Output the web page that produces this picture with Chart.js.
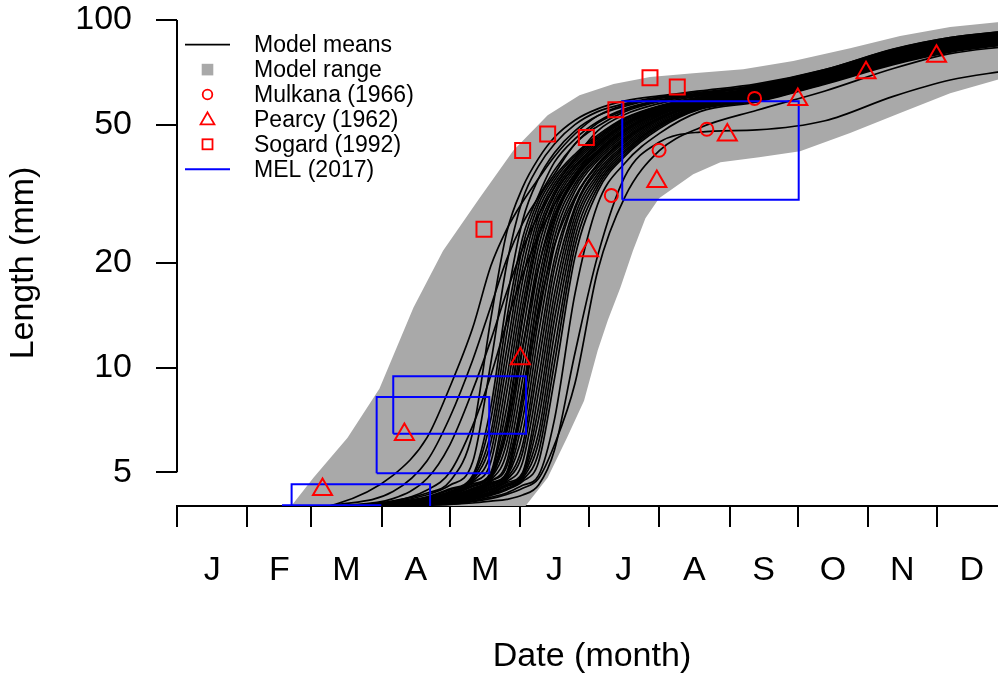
<!DOCTYPE html>
<html>
<head>
<meta charset="utf-8">
<title>Length by date</title>
<script src="https://cdn.jsdelivr.net/npm/chart.js@4.4.1/dist/chart.umd.min.js"></script>
<style>
  html, body { margin: 0; padding: 0; background: #fff; overflow: hidden; }
  #wrap { width: 1007px; height: 674px; }
</style>
</head>
<body>
<div id="wrap"><canvas id="chart" width="1007" height="674"></canvas></div>
<script>
const FONT = "'Liberation Sans', Arial, Helvetica, sans-serif";
const RED = '#FF0000';
const BLUE = '#0000FF';
const GREY = '#A9A9A9';

// axis layout
const MONTH_START = [0, 31, 59, 90, 120, 151, 181, 212, 243, 273, 304, 334];
const MONTH_MID = [15.5, 45, 74.5, 105, 135.5, 166, 196.5, 227.5, 258, 288.5, 319, 349.5];
const MONTH_LABELS = ['J', 'F', 'M', 'A', 'M', 'J', 'J', 'A', 'S', 'O', 'N', 'D'];
const LENGTH_TICKS = [5, 10, 20, 50, 100];
const LEGEND_LABELS = ['Model means', 'Model range', 'Mulkana (1966)', 'Pearcy (1962)', 'Sogard (1992)', 'MEL (2017)'];

// model runs: mean length (mm) on a shared set of days
const MODEL_DAYS = [30, 70, 95, 110, 120, 130, 138, 145, 152, 159, 166, 175, 185, 197, 212, 230, 255, 285, 315, 340, 365];
const MODEL_MEANS = [
  [3.8, 4.05, 4.9, 6.3, 8.8, 13.0, 19.6, 25.0, 30.0, 35.0, 40.5, 47.0, 53.0, 57.0, 59.5, 61.5, 65.0, 72.0, 82.5, 89.0, 93.0],
  [3.75, 4.03, 4.4, 5.4, 7.2, 10.5, 15.0, 20.5, 26.0, 31.0, 37.0, 44.0, 50.5, 55.0, 58.5, 61.0, 64.5, 71.3, 81.5, 88.2, 92.4],
  [3.72, 4.0, 4.2, 4.8, 6.0, 8.6, 12.0, 16.5, 22.0, 27.5, 33.0, 40.0, 48.0, 53.5, 57.5, 60.5, 63.8, 70.6, 80.5, 87.3, 91.5],
  [3.7, 3.98, 4.12, 4.45, 5.0, 6.8, 9.5, 13.5, 18.5, 24.0, 29.5, 36.0, 43.5, 50.0, 55.0, 59.0, 62.8, 70.0, 79.6, 86.5, 90.6],
  [3.7, 3.96, 4.14, 4.36, 4.71, 6.5, 13.8, 24.5, 33.0, 40.0, 46.0, 51.5, 55.5, 58.5, 60.5, 62.5, 65.5, 72.0, 82.3, 89.0, 92.8],
  [3.7, 3.96, 4.11, 4.31, 4.59, 5.35, 10.3, 19.8, 30.5, 38.0, 44.0, 50.0, 54.5, 57.5, 60.0, 62.0, 64.8, 71.3, 81.4, 88.1, 91.9],
  [3.7, 3.96, 4.09, 4.25, 4.48, 4.9, 7.7, 15.5, 26.5, 35.0, 41.5, 48.0, 53.0, 56.5, 59.5, 61.5, 64.2, 71.3, 81.7, 88.4, 92.2],
  [3.7, 3.96, 4.08, 4.24, 4.45, 4.85, 7.1, 13.8, 23.65, 31.3, 39.0, 45.5, 51.0, 55.5, 58.8, 61.2, 62.7, 69.9, 80.0, 86.6, 90.5],
  [3.7, 3.96, 4.08, 4.22, 4.41, 4.8, 6.5, 12.55, 22.3, 30.4, 36.05, 44.0, 49.5, 54.5, 58.2, 60.8, 63.1, 70.3, 80.4, 87.1, 90.9],
  [3.7, 3.96, 4.07, 4.2, 4.38, 4.75, 6.1, 11.3, 20.8, 29.5, 35.35, 41.1, 46.6, 52.3, 56.65, 60.05, 61.7, 68.9, 78.7, 85.3, 89.2],
  [3.7, 3.96, 4.06, 4.19, 4.36, 4.71, 5.7, 10.3, 19.3, 28.4, 34.6, 40.6, 46.05, 51.95, 56.4, 59.9, 63.5, 70.6, 80.8, 87.5, 91.3],
  [3.7, 3.96, 4.06, 4.18, 4.34, 4.67, 5.35, 9.3, 17.8, 27.3, 33.8, 40.0, 45.55, 51.6, 56.15, 59.75, 63.8, 71.0, 81.2, 88.0, 91.7],
  [3.7, 3.96, 4.05, 4.17, 4.33, 4.63, 5.0, 8.5, 16.3, 26.15, 33.0, 39.4, 45.0, 51.1, 55.9, 59.6, 62.7, 69.9, 80.0, 86.6, 90.5],
  [3.7, 3.96, 4.05, 4.16, 4.31, 4.59, 4.95, 7.7, 15.05, 25.0, 32.15, 38.8, 44.5, 50.65, 55.6, 59.45, 62.0, 69.2, 79.1, 85.7, 89.6],
  [3.7, 3.96, 4.04, 4.15, 4.29, 4.55, 4.9, 7.1, 13.8, 23.65, 31.3, 38.15, 43.9, 50.15, 55.35, 59.3, 62.4, 69.6, 79.5, 86.2, 90.0],
  [3.7, 3.96, 4.04, 4.15, 4.3, 4.57, 4.95, 6.6, 11.5, 19.5, 27.5, 35.5, 42.0, 48.5, 54.0, 58.4, 60.9, 68.2, 77.8, 84.4, 88.3],
  [3.7, 3.96, 4.04, 4.14, 4.27, 4.5, 4.85, 6.5, 12.55, 22.3, 30.4, 37.45, 43.35, 49.7, 55.1, 59.1, 61.7, 68.9, 78.7, 85.3, 89.2],
  [3.7, 3.96, 4.03, 4.13, 4.25, 4.48, 4.8, 6.1, 11.3, 20.8, 29.5, 36.8, 42.8, 49.2, 54.8, 58.95, 61.3, 68.5, 78.3, 84.8, 88.8],
  [3.7, 3.96, 4.03, 4.13, 4.25, 4.48, 4.8, 6.8, 14.0, 24.0, 31.5, 38.0, 44.0, 50.5, 55.8, 59.6, 62.7, 69.9, 80.0, 86.6, 90.5],
  [3.7, 3.96, 4.03, 4.12, 4.24, 4.45, 4.75, 5.7, 10.3, 19.3, 28.4, 36.05, 42.2, 48.65, 54.5, 58.75, 62.0, 69.2, 79.1, 85.7, 89.6],
  [3.7, 3.96, 4.03, 4.11, 4.22, 4.41, 4.71, 5.35, 9.3, 17.8, 27.3, 35.35, 41.65, 48.15, 54.25, 58.55, 60.9, 68.2, 77.8, 84.4, 88.3],
  [3.7, 3.96, 4.03, 4.11, 4.22, 4.41, 4.71, 5.2, 8.2, 14.5, 22.5, 31.0, 38.5, 45.5, 52.0, 57.0, 59.9, 67.1, 76.6, 83.0, 87.1],
  [3.7, 3.96, 4.02, 4.1, 4.2, 4.38, 4.67, 5.0, 8.5, 16.3, 26.15, 34.6, 41.1, 47.6, 54.0, 58.35, 60.6, 67.8, 77.4, 83.9, 87.9],
  [3.7, 3.96, 4.02, 4.09, 4.19, 4.36, 4.63, 4.95, 7.7, 15.05, 25.0, 33.8, 40.6, 47.1, 53.65, 58.15, 61.3, 68.5, 78.3, 84.8, 88.8],
  [3.7, 3.96, 4.02, 4.09, 4.19, 4.36, 4.63, 4.95, 8.2, 16.5, 26.5, 35.0, 41.5, 48.0, 54.2, 58.6, 62.0, 69.2, 79.1, 85.7, 89.6],
  [3.7, 3.96, 4.02, 4.09, 4.18, 4.34, 4.59, 4.9, 7.1, 13.8, 23.65, 33.0, 40.0, 46.6, 53.3, 57.95, 60.2, 67.5, 77.0, 83.5, 87.5],
  [3.7, 3.96, 4.02, 4.08, 4.17, 4.33, 4.55, 4.85, 6.5, 12.55, 22.3, 32.15, 39.4, 46.05, 52.95, 57.8, 59.9, 67.1, 76.6, 83.0, 87.1],
  [3.7, 3.96, 4.01, 4.07, 4.16, 4.31, 4.52, 4.8, 6.0, 11.3, 20.5, 30.5, 38.5, 45.5, 52.5, 57.6, 61.3, 68.5, 78.3, 84.8, 88.8],
  [3.7, 3.96, 4.01, 4.07, 4.15, 4.29, 4.48, 4.75, 5.7, 10.3, 19.3, 30.4, 38.15, 45.0, 52.3, 57.4, 60.6, 67.8, 77.4, 83.9, 87.9],
  [3.7, 3.96, 4.01, 4.06, 4.14, 4.27, 4.45, 4.7, 5.35, 9.3, 17.8, 29.0, 37.5, 44.5, 52.0, 57.2, 59.9, 67.1, 76.6, 83.0, 87.1],
  [3.7, 3.96, 4.01, 4.06, 4.13, 4.25, 4.41, 4.67, 5.0, 8.5, 16.3, 28.4, 36.8, 43.9, 51.6, 56.9, 59.5, 66.8, 76.1, 82.6, 86.6],
  [3.7, 3.96, 4.0, 4.05, 4.12, 4.23, 4.38, 4.62, 4.95, 7.7, 15.05, 27.3, 36.05, 43.35, 51.1, 56.65, 60.9, 68.2, 77.8, 84.4, 88.3],
  [3.7, 3.96, 4.0, 4.05, 4.11, 4.22, 4.36, 4.59, 4.9, 7.1, 13.8, 26.15, 35.35, 42.8, 50.65, 56.4, 59.1, 66.4, 75.7, 82.1, 86.2],
  [3.7, 3.96, 4.0, 4.04, 4.1, 4.2, 4.35, 4.55, 4.85, 6.5, 12.55, 25.0, 34.6, 42.2, 50.15, 56.15, 60.2, 67.5, 77.0, 83.5, 87.5],
  [3.7, 3.96, 4.0, 4.04, 4.09, 4.19, 4.33, 4.5, 4.8, 6.1, 11.3, 23.65, 33.8, 41.65, 49.7, 55.9, 58.8, 66.1, 75.3, 81.7, 85.8],
  [3.7, 3.96, 4.0, 4.04, 4.09, 4.18, 4.31, 4.48, 4.75, 5.7, 10.3, 22.3, 33.0, 41.1, 49.2, 55.6, 59.1, 66.4, 75.7, 82.1, 86.2],
  [3.7, 3.96, 4.0, 4.04, 4.08, 4.17, 4.29, 4.45, 4.71, 5.35, 9.3, 20.8, 32.15, 40.6, 48.65, 55.35, 58.4, 65.7, 74.9, 81.2, 85.4],
  [3.7, 3.96, 4.0, 4.03, 4.06, 4.14, 4.24, 4.36, 4.59, 4.9, 7.1, 16.3, 29.5, 38.8, 47.1, 54.5, 58.1, 65.4, 74.4, 80.8, 84.9],
  [3.7, 3.95, 4.0, 4.03, 4.05, 4.12, 4.2, 4.32, 4.5, 4.8, 6.0, 9.0, 19.0, 31.0, 42.0, 49.0, 55.0, 62.5, 72.5, 80.0, 84.0],
  [3.7, 3.95, 4.0, 4.02, 4.04, 4.08, 4.13, 4.18, 4.3, 4.6, 5.8, 11.0, 21.0, 35.5, 44.5, 47.6, 48.3, 51.3, 60.3, 67.2, 71.5]
];

// envelope of all runs
const RANGE_HIGH_DAYS = [40, 50, 60, 75, 89, 104, 117, 133, 148, 163, 177, 192, 208, 227, 249, 271, 296, 318, 340, 365];
const RANGE_HIGH = [3.3, 3.98, 4.82, 6.29, 8.7, 14.9, 21.7, 30.7, 42.2, 53.2, 60.8, 65.4, 68.5, 70.3, 72.2, 76.2, 83.0, 89.9, 95.5, 99.2];
const RANGE_LOW_DAYS = [40, 140, 153, 163, 171.5, 179, 185, 189.5, 195, 200.5, 206, 212, 227, 239, 256, 274, 296, 318, 340, 365];
const RANGE_LOW = [2.0, 3.1, 3.98, 4.82, 6.29, 8.03, 11.2, 13.7, 17.0, 21.7, 26.9, 30.7, 36.0, 39.0, 40.3, 41.9, 47.3, 54.0, 61.6, 68.5];

// field observations
const MULKANA_DAY = [191, 212, 233, 254];
const MULKANA_LEN = [31.3, 42.2, 48.5, 59.5];
const PEARCY_DAY = [64, 100, 151, 181, 211, 242, 273, 303, 334];
const PEARCY_LEN = [4.46, 6.42, 10.6, 21.7, 34.3, 46.7, 59.1, 70.5, 78.6];
const SOGARD_DAY = [135, 152, 163, 180, 193, 208, 220];
const SOGARD_LEN = [25.0, 42.1, 47.0, 45.9, 55.2, 68.2, 64.2];

// MEL (2017) sampling boxes: date span and length span
const MEL_START = [46.6, 50.4, 87.8, 95.1, 195.8];
const MEL_END = [89.4, 111.3, 137.3, 153.5, 273.4];
const MEL_MIN = [3.5, 3.6, 4.97, 6.46, 30.4];
const MEL_MAX = [4.02, 4.62, 8.23, 9.44, 58.4];

const pts = (xs, ys) => xs.map((x, i) => ({ x: x, y: ys[i] }));

const datasets = [];

// grey envelope: lower edge, then upper edge filled down to it
datasets.push({
  data: pts(RANGE_LOW_DAYS, RANGE_LOW),
  borderWidth: 0, borderColor: 'transparent', pointRadius: 0, fill: false, tension: 0, order: 9
});
datasets.push({
  data: pts(RANGE_HIGH_DAYS, RANGE_HIGH),
  borderWidth: 0, borderColor: 'transparent', pointRadius: 0, tension: 0,
  fill: '-1', backgroundColor: GREY, order: 9
});

MODEL_MEANS.forEach(run => {
  datasets.push({
    data: pts(MODEL_DAYS, run),
    borderColor: '#000', borderWidth: 1.7, pointRadius: 0,
    cubicInterpolationMode: 'monotone', fill: false, order: 5
  });
});

MEL_START.forEach((start, i) => {
  const end = MEL_END[i], lo = MEL_MIN[i], hi = MEL_MAX[i];
  datasets.push({
    data: [{ x: start, y: lo }, { x: end, y: lo }, { x: end, y: hi }, { x: start, y: hi }, { x: start, y: lo }],
    borderColor: BLUE, borderWidth: 2, pointRadius: 0, tension: 0, fill: false, order: 3
  });
});

function observations(days, lens, style, radius) {
  return {
    data: pts(days, lens),
    showLine: false, pointStyle: style, pointRadius: radius,
    pointBorderColor: RED, pointBackgroundColor: 'rgba(0,0,0,0)', pointBorderWidth: 2,
    order: 1
  };
}
datasets.push(observations(MULKANA_DAY, MULKANA_LEN, 'circle', 6.5));
datasets.push(observations(PEARCY_DAY, PEARCY_LEN, 'triangle', 11));
datasets.push(observations(SOGARD_DAY, SOGARD_LEN, 'rect', 10.6));

// axis line over the labelled range only, plus the key in the corner
const legendBox = {
  id: 'legendBox',
  afterDraw(chart) {
    const { ctx, chartArea } = chart;
    const y = chart.scales.y;
    ctx.save();
    ctx.strokeStyle = '#000';
    ctx.lineWidth = 2;
    ctx.beginPath();
    ctx.moveTo(chartArea.left, y.getPixelForValue(LENGTH_TICKS[0]));
    ctx.lineTo(chartArea.left, y.getPixelForValue(LENGTH_TICKS[LENGTH_TICKS.length - 1]));
    ctx.stroke();

    const x0 = chartArea.left + 8, x1 = chartArea.left + 53, xm = (x0 + x1) / 2;
    const row = i => chartArea.top + 24.7 + 24.9 * i;

    ctx.font = '23px ' + FONT;
    ctx.textBaseline = 'middle';
    ctx.textAlign = 'left';
    ctx.fillStyle = '#000';
    LEGEND_LABELS.forEach((label, i) => ctx.fillText(label, chartArea.left + 77, row(i) + 1));

    ctx.lineWidth = 1.7;
    ctx.strokeStyle = '#000';
    ctx.beginPath(); ctx.moveTo(x0, row(0)); ctx.lineTo(x1, row(0)); ctx.stroke();

    ctx.fillStyle = GREY;
    ctx.fillRect(xm - 5.8, row(1) - 5.8, 11.6, 11.6);

    ctx.strokeStyle = RED;
    ctx.lineWidth = 1.8;
    ctx.beginPath(); ctx.arc(xm, row(2), 4.8, 0, Math.PI * 2); ctx.stroke();

    const ty = row(3) + 1, r = 8;
    ctx.beginPath();
    ctx.moveTo(xm, ty - r);
    ctx.lineTo(xm + r * 0.866, ty + r / 2);
    ctx.lineTo(xm - r * 0.866, ty + r / 2);
    ctx.closePath();
    ctx.stroke();

    ctx.strokeRect(xm - 5, row(4) - 5, 10, 10);

    ctx.strokeStyle = BLUE;
    ctx.lineWidth = 2;
    ctx.beginPath(); ctx.moveTo(x0, row(5)); ctx.lineTo(x1, row(5)); ctx.stroke();
    ctx.restore();
  }
};

// keep the plot box fixed: no extra room reserved for edge labels
function noEdgePadding(s) {
  s.paddingTop = 0;
  s.paddingBottom = 0;
  s.paddingLeft = 0;
  s.paddingRight = 0;
}

Chart.defaults.font.family = FONT;
Chart.defaults.color = '#000';

new Chart(document.getElementById('chart'), {
  type: 'line',
  data: { datasets: datasets },
  options: {
    responsive: false,
    animation: false,
    devicePixelRatio: 1,
    events: [],
    layout: { autoPadding: false, padding: { top: 20, left: 0, right: 0, bottom: 0 } },
    plugins: {
      legend: { display: false },
      tooltip: { enabled: false }
    },
    scales: {
      x: {
        type: 'linear', min: 0, max: 365, position: 'bottom', weight: 0,
        afterBuildTicks: s => { s.ticks = MONTH_START.map(v => ({ value: v })); },
        afterFit: s => { s.height = 21; noEdgePadding(s); },
        ticks: { display: false },
        grid: { drawOnChartArea: false, drawTicks: true, tickLength: 21, color: '#000', lineWidth: 2 },
        border: { display: true, color: '#000', width: 2 }
      },
      months: {
        type: 'linear', axis: 'x', min: 0, max: 365, position: 'bottom', weight: 1,
        afterBuildTicks: s => { s.ticks = MONTH_MID.map(v => ({ value: v })); },
        afterFit: s => { s.height = 147; noEdgePadding(s); },
        ticks: {
          autoSkip: false, maxRotation: 0, minRotation: 0, padding: 27, color: '#000',
          font: { size: 34, lineHeight: 1 },
          callback: (v, i) => MONTH_LABELS[i]
        },
        grid: { display: false, drawTicks: false },
        border: { display: false },
        title: {
          display: true, text: 'Date (month)', color: '#000',
          font: { size: 34, lineHeight: 1 }, padding: { top: 0, bottom: 0 }
        }
      },
      y: {
        type: 'logarithmic', min: 4, max: 100, position: 'left',
        afterBuildTicks: s => { s.ticks = LENGTH_TICKS.map(v => ({ value: v })); },
        afterFit: s => { s.width = 177; noEdgePadding(s); },
        ticks: {
          padding: 24, color: '#000', font: { size: 34, lineHeight: 1 },
          callback: v => String(v)
        },
        grid: { drawOnChartArea: false, drawTicks: true, tickLength: 21, color: '#000', lineWidth: 2 },
        border: { display: false },
        title: {
          display: true, text: 'Length (mm)', color: '#000',
          font: { size: 34, lineHeight: 1 }, padding: { top: 7, bottom: 0 }
        }
      }
    }
  },
  plugins: [legendBox]
});
</script>
</body>
</html>
